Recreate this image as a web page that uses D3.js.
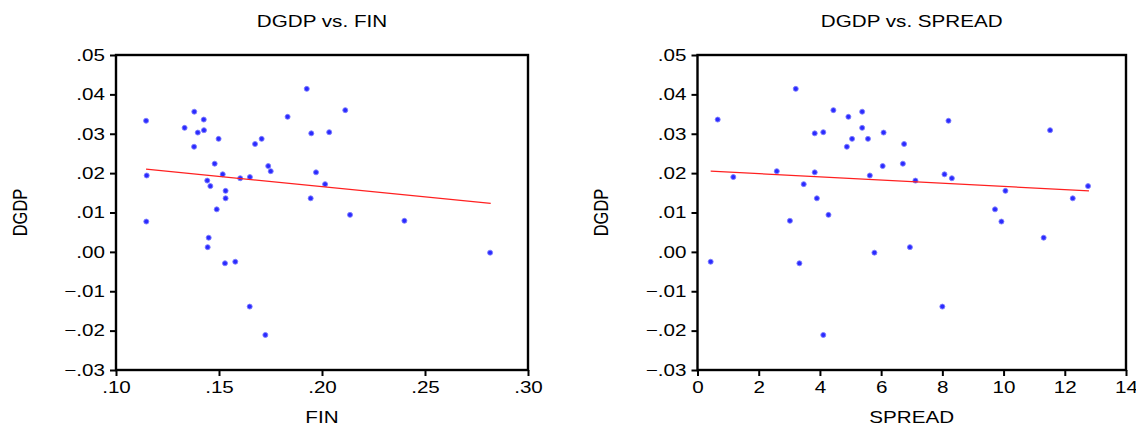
<!DOCTYPE html>
<html>
<head>
<meta charset="utf-8">
<script src="https://cdn.jsdelivr.net/npm/d3@7"></script>
<style>
  body { margin: 0; background: #fff; }
  svg { display: block; font-family: "Liberation Sans", Arial, sans-serif; }
  .tick line { stroke: #000; stroke-width: 2; }
  .tick text { fill: #000; font-size: 16.5px; }
</style>
</head>
<body>
<svg id="chart" width="1136" height="426"></svg>
<script>
// observations (same order in every array)
var dgdp = [0.0414, 0.0360, 0.0356, 0.0343, 0.0336, 0.0333, 0.0315, 0.0309, 0.0304, 0.0303,
            0.0301, 0.0287, 0.0287, 0.0274, 0.0267, 0.0224, 0.0218, 0.0205, 0.0202, 0.0197,
            0.0194, 0.0190, 0.0187, 0.0181, 0.0172, 0.0167, 0.0155, 0.0136, 0.0136, 0.0108,
            0.0094, 0.0079, 0.0077, 0.0036, 0.0012, -0.0002, -0.0025, -0.0029, -0.0139, -0.0211];
var fin = [0.1926, 0.2113, 0.1380, 0.1833, 0.1426, 0.1146, 0.1333, 0.1427, 0.2035, 0.1397,
           0.1948, 0.1498, 0.1707, 0.1675, 0.1379, 0.1479, 0.1739, 0.1751, 0.1971, 0.1518,
           0.1149, 0.1650, 0.1603, 0.1443, 0.2015, 0.1458, 0.1532, 0.1532, 0.1945, 0.1489,
           0.2136, 0.2400, 0.1147, 0.1450, 0.1445, 0.2816, 0.1579, 0.1529, 0.1649, 0.1725];
var spread = [3.21, 4.44, 5.38, 4.93, 0.66, 8.20, 5.38, 11.52, 4.11, 6.08,
              3.83, 5.05, 5.57, 6.75, 4.88, 6.71, 6.05, 2.59, 3.83, 8.07,
              5.63, 1.17, 8.31, 7.12, 3.47, 12.76, 10.06, 3.90, 12.26, 9.72,
              4.28, 3.02, 9.93, 11.31, 6.94, 5.78, 0.43, 3.33, 8.00, 4.11];

// fitted regression lines (endpoints)
var finFitX = [0.1146, 0.2819];
var finFitY = [0.0210, 0.0123];
var spreadFitX = [0.43, 12.79];
var spreadFitY = [0.0205, 0.0155];

// ticks
var dgdpTicks = [-0.03, -0.02, -0.01, 0.00, 0.01, 0.02, 0.03, 0.04, 0.05];
var finTicks = [0.10, 0.15, 0.20, 0.25, 0.30];
var spreadTicks = [0, 2, 4, 6, 8, 10, 12, 14];

var svg = d3.select('#chart');
var top_ = 55, bottom = 370;
var stretch = 1.25; // text is wider than normal in the reference
var fontSize = '16.5px';

function dotFmt(v) {
    return d3.format('.2f')(v).replace('0.', '.');
}

function widen(sel) {
    sel.each(function () {
        var w = this.getComputedTextLength();
        this.setAttribute('textLength', w * stretch);
        this.setAttribute('lengthAdjust', 'spacingAndGlyphs');
    });
}

function panel(opts) {
    var x = d3.scaleLinear().domain(opts.xDomain).range([opts.x0, opts.x1]);
    var y = d3.scaleLinear().domain([-0.03, 0.05]).range([bottom, top_]);
    var cx = (opts.x0 + opts.x1) / 2;

    var g = svg.append('g');

    // title
    g.append('text')
        .attr('x', cx).attr('y', 27)
        .attr('text-anchor', 'middle')
        .style('font-size', fontSize)
        .text(opts.title)
        .call(widen);

    // axes
    var yAxis = d3.axisLeft(y).tickValues(dgdpTicks).tickFormat(dotFmt)
        .tickSizeInner(6).tickSizeOuter(0).tickPadding(5);
    var xAxis = d3.axisBottom(x).tickValues(opts.ticks).tickFormat(opts.fmt)
        .tickSizeInner(6).tickSizeOuter(0).tickPadding(5);

    var ya = g.append('g').attr('transform', 'translate(' + opts.x0 + ',0)').call(yAxis);
    ya.select('.domain').remove();
    ya.selectAll('text').call(widen);

    var xa = g.append('g').attr('transform', 'translate(0,' + bottom + ')').call(xAxis);
    xa.select('.domain').remove();
    xa.selectAll('text').call(widen);

    // axis labels
    g.append('text')
        .attr('x', cx).attr('y', 423)
        .attr('text-anchor', 'middle')
        .style('font-size', fontSize)
        .text(opts.xLabel)
        .call(widen);

    g.append('text')
        .attr('transform', 'translate(' + opts.yLabelX + ',' + ((top_ + bottom) / 2) + ') scale(' + stretch + ',1) rotate(-90)')
        .attr('text-anchor', 'middle')
        .attr('dy', '0.35em')
        .style('font-size', fontSize)
        .text('DGDP');

    // frame
    g.append('rect')
        .attr('x', opts.x0).attr('y', top_)
        .attr('width', opts.x1 - opts.x0).attr('height', bottom - top_)
        .attr('fill', 'none')
        .attr('stroke', '#000')
        .attr('stroke-width', 2.4);

    // points
    g.selectAll('circle')
        .data(d3.range(dgdp.length))
        .enter()
        .append('circle')
        .attr('cx', i => x(opts.xs[i]))
        .attr('cy', i => y(dgdp[i]))
        .attr('r', 2.5)
        .attr('fill', '#2b2bff')
        .attr('stroke', '#8080ff')
        .attr('stroke-width', 0.9);

    // fitted line
    var line = d3.line().x(d => x(d[0])).y(d => y(d[1]));
    g.append('path')
        .datum(d3.zip(opts.fitX, opts.fitY))
        .attr('d', line)
        .attr('fill', 'none')
        .attr('stroke', '#ff2020')
        .attr('stroke-width', 1.2);
}

panel({
    title: 'DGDP vs. FIN', xLabel: 'FIN',
    x0: 116, x1: 528, xDomain: [0.10, 0.30],
    ticks: finTicks, fmt: dotFmt,
    xs: fin, fitX: finFitX, fitY: finFitY,
    yLabelX: 20
});

panel({
    title: 'DGDP vs. SPREAD', xLabel: 'SPREAD',
    x0: 697.5, x1: 1126, xDomain: [0, 14],
    ticks: spreadTicks, fmt: d3.format('d'),
    xs: spread, fitX: spreadFitX, fitY: spreadFitY,
    yLabelX: 601
});
</script>
</body>
</html>
